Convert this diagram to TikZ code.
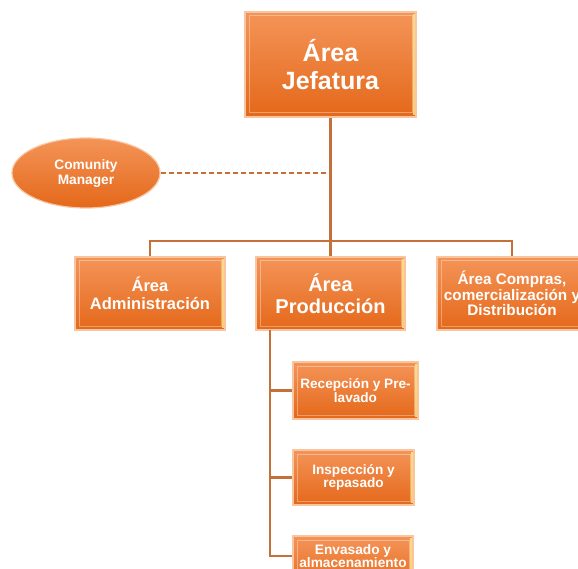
\documentclass[tikz,border=0pt]{standalone}
\usepackage{fontspec}
\setmainfont{Liberation Sans}
\usetikzlibrary{shapes.geometric}
\definecolor{lineC}{RGB}{196,112,58}
\definecolor{topC}{RGB}{244,148,88}
\definecolor{botC}{RGB}{228,104,26}
\definecolor{edgeC}{RGB}{249,196,158}
\tikzset{
 bevel/.style={path picture={
   \draw[white, opacity=0.35, line width=1pt]
     ([xshift=4pt,yshift=-4pt]path picture bounding box.north west) rectangle
     ([xshift=-4pt,yshift=4pt]path picture bounding box.south east);
   \draw[yellow!40!white, opacity=0.7, line width=1.5pt]
     ([xshift=-2pt,yshift=-2pt]path picture bounding box.north east) --
     ([xshift=-2pt,yshift=2pt]path picture bounding box.south east);}},
 orgbox/.style={rectangle, top color=topC, bottom color=botC, draw=edgeC, line width=1.2pt, text=white, align=center, inner sep=0pt, bevel},
 ovalbox/.style={ellipse, top color=topC, bottom color=botC, draw=edgeC, line width=1.2pt, text=white, align=center, inner sep=0pt},
 conn/.style={draw=lineC, line width=2.4pt},
 bigtxt/.style={font=\bfseries\fontsize{25}{28}\selectfont},
 midtxt/.style={font=\bfseries\fontsize{20}{22}\selectfont},
 stdtxt/.style={font=\bfseries\fontsize{16.5}{18}\selectfont},
 smtxt/.style={font=\bfseries\fontsize{15.3}{15.5}\selectfont},
 tinytxt/.style={font=\bfseries\fontsize{13.6}{13.5}\selectfont},
}
\begin{document}
\begin{tikzpicture}[x=1pt,y=-1pt]
\useasboundingbox (0,0) rectangle (578,569);
\clip (0,0) rectangle (578,569);
% nodes
\node[orgbox, bigtxt, minimum width=171pt, minimum height=105pt] (jef) at (330.5,64.5) {Área\\Jefatura};
\node[ovalbox, font=\bfseries\fontsize{13.7}{15}\selectfont, minimum width=148pt, minimum height=70pt] (cm) at (86,173) {Comunity\\Manager};
\node[orgbox, stdtxt, minimum width=150pt, minimum height=73pt] (adm) at (150,293.5) {Área\\Administración};
\node[orgbox, midtxt, minimum width=149pt, minimum height=73pt] (prod) at (330.5,293.5) {Área\\Producción};
\node[orgbox, smtxt, minimum width=150pt, minimum height=73pt] (com) at (512,293.5) {Área Compras,\\comercialización y\\Distribución};
\node[orgbox, tinytxt, minimum width=125pt, minimum height=57pt] (rec) at (355.5,390.5) {Recepción y Pre-\\lavado};
\node[orgbox, tinytxt, minimum width=121pt, minimum height=55pt] (ins) at (353.5,477.5) {Inspección y\\repasado};
\node[orgbox, minimum width=120pt, minimum height=55pt] (env) at (353,563.5) {};
\node[text=white, align=center, inner sep=0pt, font=\bfseries\fontsize{13.7}{11.5}\selectfont] (envt) at (353,556) {Envasado y\\almacenamiento};
% coordinates
\coordinate (bus) at (330.5,241);
\coordinate (sub) at (270,330);
% connectors
\draw[conn, dashed, dash pattern=on 5pt off 3pt, line width=1.8pt] (cm.east) -- (cm.east -| jef.south);
\draw[conn] (jef.south) -- (bus);
\draw[conn] (adm.north) |- (bus) -| (com.north);
\draw[conn] (bus) -- (prod.north);
\draw[conn] (sub) |- (envt -| env.west);
\draw[conn] (sub |- rec.west) -- (rec.west);
\draw[conn] (sub |- ins.west) -- (ins.west);
\end{tikzpicture}
\end{document}
